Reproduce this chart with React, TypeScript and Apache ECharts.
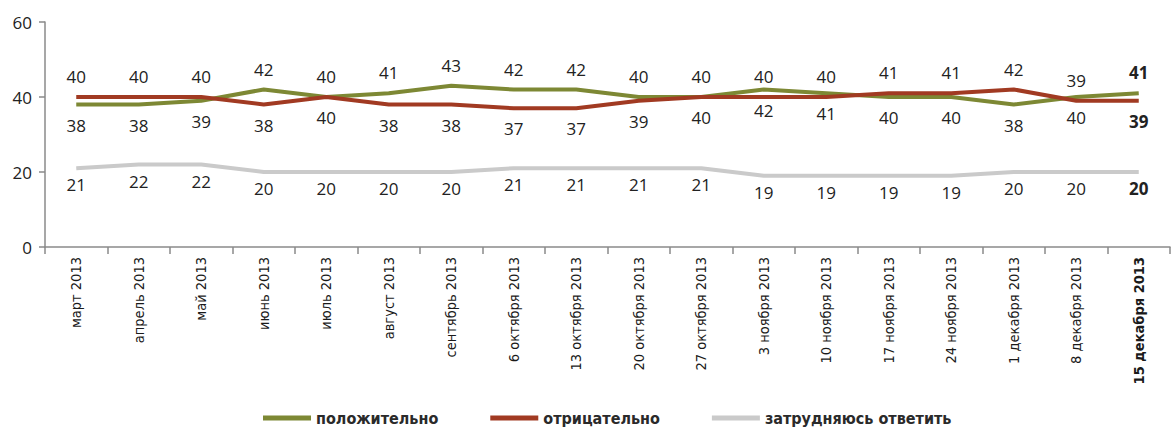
import React, { useEffect, useRef } from "react";
import * as echarts from "echarts";

const categories = [
  "март 2013",
  "апрель 2013",
  "май 2013",
  "июнь 2013",
  "июль 2013",
  "август 2013",
  "сентябрь 2013",
  "6 октября 2013",
  "13 октября 2013",
  "20 октября 2013",
  "27 октября 2013",
  "3 ноября 2013",
  "10 ноября 2013",
  "17 ноября 2013",
  "24 ноября 2013",
  "1 декабря 2013",
  "8 декабря 2013",
  "15 декабря 2013",
];

const positive = [38, 38, 39, 42, 40, 41, 43, 42, 42, 40, 40, 42, 41, 40, 40, 38, 40, 41];
const negative = [40, 40, 40, 38, 40, 38, 38, 37, 37, 39, 40, 40, 40, 41, 41, 42, 39, 39];
const undecided = [21, 22, 22, 20, 20, 20, 20, 21, 21, 21, 21, 19, 19, 19, 19, 20, 20, 20];

const yTicks = [0, 20, 40, 60];

const seriesNames = ["положительно", "отрицательно", "затрудняюсь ответить"];

const NUM_FONT = "'Open Sans', 'Noto Sans', sans-serif";
const NARROW_FONT = "'Liberation Sans Narrow', 'DejaVu Sans Condensed', 'Roboto', sans-serif";

export default function App() {
  const ref = useRef<HTMLDivElement>(null);

  useEffect(() => {
    document.body.style.margin = "0";
    if (!ref.current) return;
    const chart = echarts.init(ref.current, null, { renderer: "svg" });
    const last = categories.length - 1;
    // indices where the "отрицательно" label sits above the lines in the original
    const negAbove = new Set([0, 1, 2, 11, 12, 13, 14, 15, 16]);

    const labelStyle = (i: number, pos: "top" | "bottom", dist: number) => ({
      show: true,
      position: pos,
      distance: dist,
      fontFamily: NUM_FONT,
      fontSize: 17,
      color: "#222",
      fontWeight: i === last ? "bold" : "normal",
    });

    const mk = (vals: number[], posFn: (i: number) => "top" | "bottom", dist: number) =>
      vals.map((v, i) => ({ value: v, label: labelStyle(i, posFn(i), dist) }));

    const lineSeries = (name: string, vals: number[], color: string, posFn: (i: number) => "top" | "bottom", dist: number, z: number) => ({
      name,
      type: "line",
      data: mk(vals, posFn, dist),
      symbol: "circle",
      symbolSize: 0,
      showSymbol: true,
      lineStyle: { color, width: 4 },
      itemStyle: { color },
      emphasis: { disabled: true },
      z,
    });

    chart.setOption({
      animation: false,
      backgroundColor: "#fff",
      grid: { left: 45, right: 3, top: 22, bottom: 188, containLabel: false },
      legend: {
        bottom: 4,
        left: 258,
        icon: "rect",
        itemWidth: 48,
        itemHeight: 5,
        itemGap: 52,
        textStyle: { fontFamily: NARROW_FONT, fontSize: 16, fontWeight: "bold", color: "#2a2a2a" },
        data: seriesNames,
      },
      xAxis: {
        type: "category",
        data: categories,
        boundaryGap: true,
        axisLine: { lineStyle: { color: "#8a8a8a", width: 1.5 } },
        axisTick: { show: true, interval: 0, length: 7, lineStyle: { color: "#8a8a8a", width: 1.5 } },
        axisLabel: {
          interval: 0,
          rotate: 90,
          margin: 10,
          fontFamily: NARROW_FONT,
          fontSize: 14.5,
          color: "#1a1a1a",
          formatter: (v: string, i: number) => (i === last ? `{b|${v}}` : v),
          rich: { b: { fontFamily: NARROW_FONT, fontSize: 14.5, fontWeight: "bold", color: "#1a1a1a" } },
        },
      },
      yAxis: {
        type: "value",
        min: yTicks[0],
        max: yTicks[yTicks.length - 1],
        interval: 20,
        axisLine: { show: true, lineStyle: { color: "#8a8a8a", width: 1.5 } },
        axisTick: { show: true, length: 6, lineStyle: { color: "#8a8a8a", width: 1.5 } },
        splitLine: { show: false },
        axisLabel: { margin: 13, fontFamily: NUM_FONT, fontSize: 17, color: "#222" },
      },
      series: [
        lineSeries(seriesNames[0], positive, "#7d8834", (i) => (negAbove.has(i) ? "bottom" : "top"), 12, 3),
        lineSeries(seriesNames[1], negative, "#a13a22", (i) => (negAbove.has(i) ? "top" : "bottom"), 12, 4),
        lineSeries(seriesNames[2], undecided, "#cacaca", () => "bottom", 8, 2),
      ],
    });
    return () => chart.dispose();
  }, []);

  return <div ref={ref} style={{ width: 1173, height: 435 }} />;
}
